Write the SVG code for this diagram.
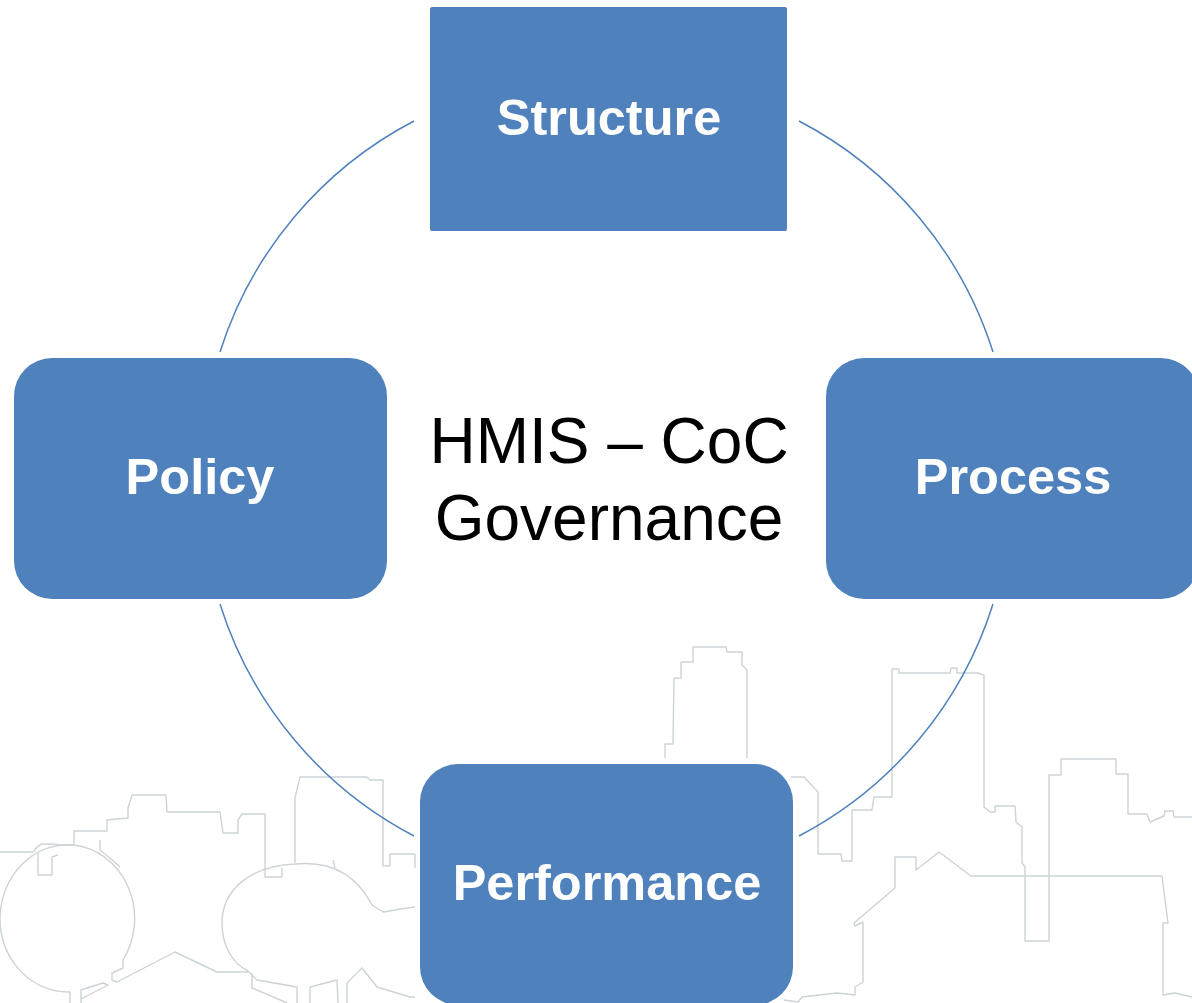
<svg xmlns="http://www.w3.org/2000/svg" width="1192" height="1003" viewBox="0 0 1192 1003">
<style>
.sky{fill:none;stroke:#cdd3d6;stroke-width:1.4;stroke-linejoin:round}
.con{fill:none;stroke:#4f81bd;stroke-width:1.5}
.box{fill:#4f81bd}
.lbl{font-family:"Liberation Sans",Arial,sans-serif;font-weight:bold;font-size:50.5px;fill:#fff;text-anchor:middle}
.ctr{font-family:"Liberation Sans",Arial,sans-serif;font-size:64px;fill:#000;text-anchor:middle}
</style>
<rect width="1192" height="1003" fill="#fff"/>
<g id="skyline">
<path class="sky" d="M0 852H33L38 846L42 844H52L60 845L74 845V831H107V820L128 818V808L132 795H166L167 812H220L223 833H238V820L242 814H265V877H282V868M295 863V798L300 777H367L370 780H383V866H390V854H415V868M38 853V875H52V857L58 855"/>
<path class="sky" d="M74 845A68 74 0 0 1 123 960V968L112 973V980L117 982L175 952L217 972H248M74 845A68 74 0 0 0 0 918A68 74 0 0 0 70 992V1003M81 1003V990L103 983L108 985L81 999M100 840V850L110 858L120 867"/>
<path class="sky" d="M295 864C335 860 358 878 372 905L383 912C395 910 405 908 415 907M295 864C250 866 222 890 222 923C222 945 232 963 248 971L257 980L297 987V1003M252 973V988L287 1003M310 1003V987L337 980L338 1003M347 1003V983L362 968L377 987L410 997H415M333 860L335 868"/>
<path class="sky" d="M665 758V744H673L674 678H681V662H693V647H726L727 652H742V665L747 670V758"/>
<path class="sky" d="M791 777H804L818 792V854H841L842 861H852V810H872L874 797H892V669H899V673H950L951 668H957V673H978L984 675V807L990 812H995V806H1015L1016 822L1022 827V863L1025 867V941H1049V775H1061V759H1116V774H1128V814H1147L1150 822L1164 816L1165 811H1173L1174 817H1192"/>
<path class="sky" d="M784 1000L798 1002L802 997L837 993L855 995V987L863 982V922L855 926L854 923L895 888V857H916V870L939 852L971 876H1162L1168 923H1163V995L1175 993L1192 997"/>
</g>
<g id="connectors">
<path class="con" d="M414 121A395 395 0 0 0 220 352"/>
<path class="con" d="M799 121A395 395 0 0 1 993 352"/>
<path class="con" d="M993 604A395 395 0 0 1 799 836"/>
<path class="con" d="M220 604A395 395 0 0 0 414 836"/>
</g>
<g id="node-structure"><rect class="box" x="430" y="7" width="357" height="224" rx="2"/><text class="lbl" x="609" y="135">Structure</text></g>
<g id="node-process"><rect class="box" x="826" y="358" width="373" height="241" rx="38"/><text class="lbl" x="1013" y="494">Process</text></g>
<g id="node-policy"><rect class="box" x="14" y="358" width="373" height="241" rx="38"/><text class="lbl" x="200" y="494">Policy</text></g>
<g id="node-performance"><rect class="box" x="420" y="764" width="373" height="241" rx="38"/><text class="lbl" x="607" y="900">Performance</text></g>
<g id="center"><text class="ctr" x="609" y="463">HMIS – CoC</text><text class="ctr" x="609" y="540">Governance</text></g>
</svg>
